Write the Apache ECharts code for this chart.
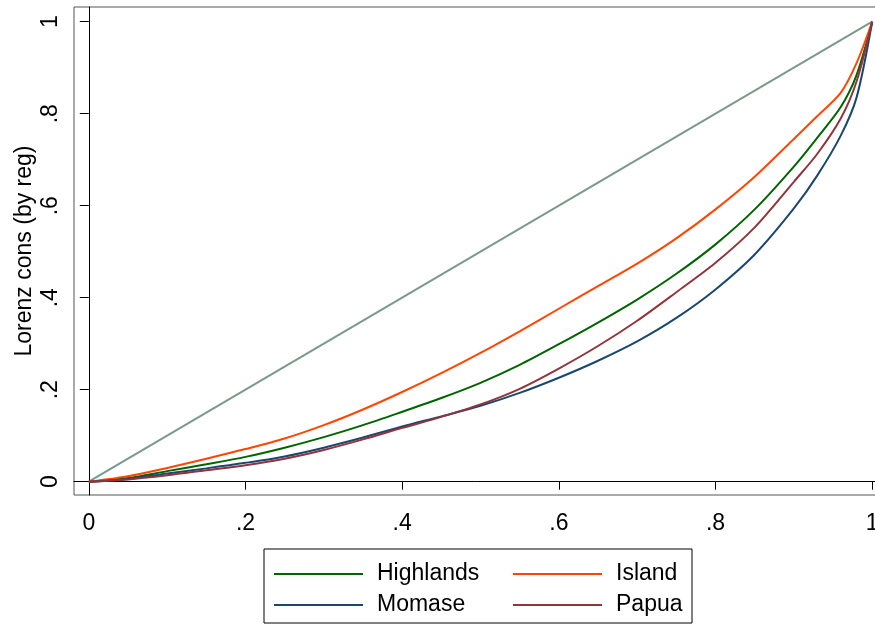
<!DOCTYPE html>
<html>
<head>
<meta charset="utf-8">
<script src="https://cdn.jsdelivr.net/npm/echarts@6/dist/echarts.min.js"></script>
<style>
  html, body { margin: 0; padding: 0; background: #fff; }
  #main { width: 875px; height: 625px; }
</style>
</head>
<body>
<div id="main"></div>
<script>
// cumulative population share (x)
var popShare = [0, 0.05, 0.1, 0.15, 0.2, 0.25, 0.3, 0.35, 0.4, 0.45, 0.5,
    0.55, 0.6, 0.65, 0.7, 0.75, 0.8, 0.85, 0.9, 0.93, 0.96, 0.98, 1];

// lorenz ordinates
var highlands = [0, 0.008, 0.023, 0.038, 0.054, 0.074, 0.097, 0.123, 0.152, 0.182, 0.215,
    0.254, 0.299, 0.346, 0.396, 0.452, 0.516, 0.592, 0.685, 0.748, 0.815, 0.884, 1];
var island = [0, 0.012, 0.03, 0.05, 0.071, 0.094, 0.123, 0.157, 0.195, 0.236, 0.28,
    0.327, 0.376, 0.425, 0.474, 0.529, 0.592, 0.663, 0.745, 0.795, 0.846, 0.91, 1];
var momase = [0, 0.006, 0.018, 0.029, 0.041, 0.055, 0.074, 0.096, 0.12, 0.142, 0.165,
    0.193, 0.226, 0.263, 0.305, 0.356, 0.418, 0.494, 0.594, 0.666, 0.753, 0.835, 1];
var papua = [0, 0.005, 0.014, 0.025, 0.036, 0.05, 0.069, 0.092, 0.117, 0.141, 0.168,
    0.202, 0.246, 0.295, 0.35, 0.412, 0.476, 0.553, 0.652, 0.713, 0.79, 0.87, 1];

// line of equality
var equalX = [0, 1];
var equalY = [0, 1];

var tickValues = [0, 0.2, 0.4, 0.6, 0.8, 1];

function zip(xs, ys) {
    var out = [];
    for (var i = 0; i < xs.length; i++) {
        out.push([xs[i], ys[i]]);
    }
    return out;
}

function fmtTick(v) {
    if (v === 0) return '0';
    if (v === 1) return '1';
    return String(Math.round(v * 10) / 10).replace(/^0/, '');
}

var FONT = 'Liberation Sans, Arial, sans-serif';

var myChart = echarts.init(document.getElementById('main'));

function regionLine(name, ys, color) {
    return {
        name: name,
        type: 'line',
        symbol: 'none',
        smooth: 0.3,
        data: zip(popShare, ys),
        lineStyle: { color: color, width: 2 },
        itemStyle: { color: color }
    };
}

var option = {
    animation: false,
    textStyle: { fontFamily: FONT },
    grid: {
        left: 74,
        top: 7,
        width: 813,
        height: 488,
        outerBoundsMode: 'none',
        containLabel: false,
        show: true,
        borderColor: '#555',
        borderWidth: 1
    },
    legend: {
        left: 264,
        top: 549,
        width: 438,
        padding: [13, 9, 6, 10],
        icon: 'rect',
        itemWidth: 89,
        itemHeight: 2,
        itemGap: 7,
        borderColor: '#000',
        borderWidth: 1,
        selectedMode: false,
        textStyle: {
            fontSize: 23,
            color: '#000',
            lineHeight: 24,
            padding: [0, 0, 0, 9]
        },
        data: [
            { name: 'Highlands', textStyle: { width: 129 } },
            { name: 'Island', textStyle: { width: 67 } },
            { name: 'Momase', textStyle: { width: 129 } },
            { name: 'Papua', textStyle: { width: 67 } }
        ]
    },
    xAxis: {
        type: 'value',
        min: -0.0189,
        max: 1.0189,
        offset: 1,
        splitLine: { show: false },
        axisLine: { show: true, lineStyle: { color: '#000', width: 1 } },
        axisTick: { show: true, length: 8, customValues: tickValues, lineStyle: { color: '#000' } },
        axisLabel: {
            customValues: tickValues,
            formatter: fmtTick,
            fontSize: 23,
            color: '#000',
            margin: 16
        }
    },
    yAxis: {
        type: 'value',
        min: -0.0289,
        max: 1.032,
        name: 'Lorenz cons (by reg)',
        nameLocation: 'middle',
        nameGap: 38,
        nameMoveOverlap: false,
        nameTextStyle: { fontSize: 23, color: '#000' },
        splitLine: { show: false },
        axisLine: { show: true, lineStyle: { color: '#000', width: 1 } },
        axisTick: { show: true, length: 9, customValues: tickValues, lineStyle: { color: '#000' } },
        axisLabel: {
            customValues: tickValues,
            formatter: fmtTick,
            rotate: 90,
            fontSize: 23,
            color: '#000',
            margin: 12
        }
    },
    series: [
        {
            name: 'equality',
            type: 'line',
            symbol: 'none',
            data: zip(equalX, equalY),
            lineStyle: { color: '#7a9a8a', width: 2 },
            itemStyle: { color: '#7a9a8a' },
            z: 1
        },
        regionLine('Highlands', highlands, '#006400'),
        regionLine('Island', island, '#ff4500'),
        regionLine('Momase', momase, '#1a476f'),
        regionLine('Papua', papua, '#90353b')
    ]
};

myChart.setOption(option);
</script>
</body>
</html>
